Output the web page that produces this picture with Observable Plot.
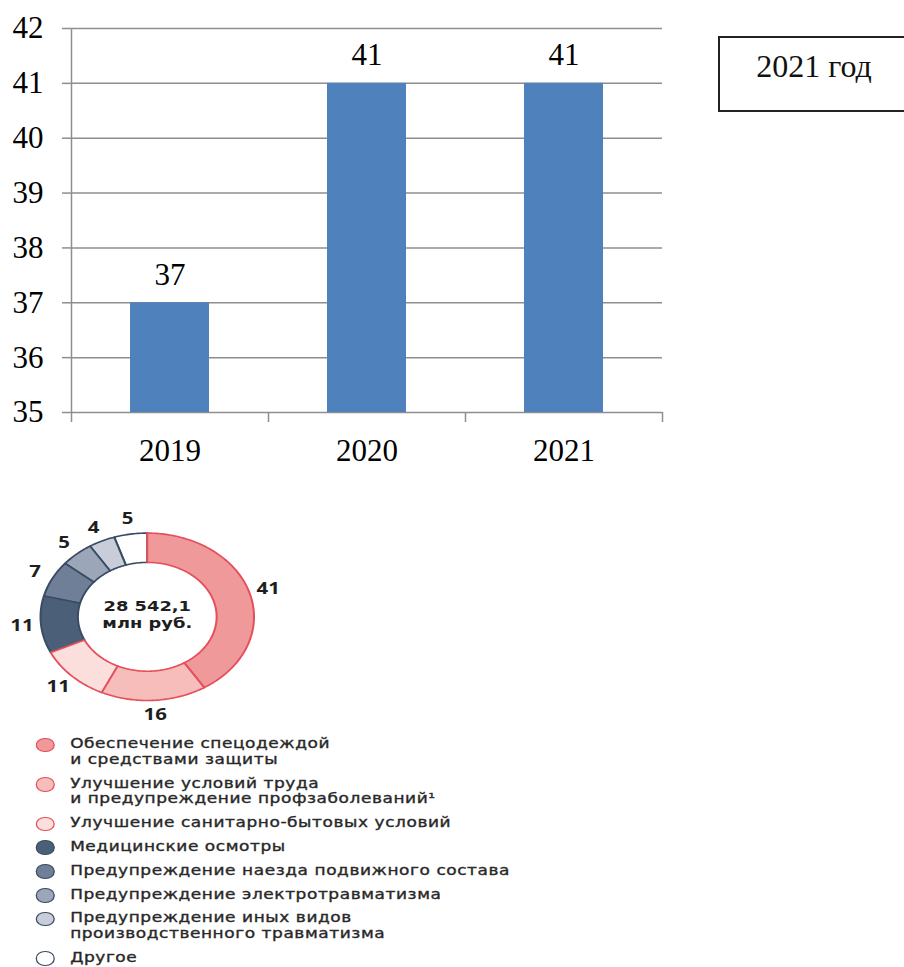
<!DOCTYPE html>
<html>
<head>
<meta charset="utf-8">
<script src="https://cdn.jsdelivr.net/npm/d3@7"></script>
<script src="https://cdn.jsdelivr.net/npm/@observablehq/plot@0.6"></script>
<style>
  html, body { margin: 0; padding: 0; background: #fff; }
  #page { position: relative; width: 904px; height: 967px; overflow: hidden; background: #fff; }
  #bars { position: absolute; left: 0; top: 0; }
  #yearBox { position: absolute; left: 718px; top: 36px; width: 196px; height: 72px; border: 2px solid #222;
             font-family: "Liberation Serif", "Times New Roman", serif; font-size: 32px; color: #111; }
  #yearBox span { position: absolute; left: 0; top: 10px; width: 188px; text-align: center; line-height: normal; white-space: nowrap; }
  #lower { position: absolute; left: 0; top: 500px; width: 420px; height: 467px; transform: scaleX(1.275); transform-origin: 0 0; }
  #donut { position: absolute; left: 0; top: 0; }
  #legend { position: absolute; left: 0; top: 236px; font-family: "DejaVu Sans", sans-serif; font-size: 13.3px;
            letter-spacing: 0.45px; line-height: 15.8px; color: #262626; -webkit-text-stroke: 0.35px #2e2e2e; }
  .row { position: relative; padding-left: 55px; margin-bottom: 8px; white-space: nowrap; }
  .swatch { position: absolute; left: 28px; top: 1.5px; width: 12.5px; height: 12.5px; border-radius: 50%; border: 1.5px solid; -webkit-text-stroke: 0; }
</style>
</head>
<body>
<div id="page">
  <div id="bars"></div>
  <div id="yearBox"><span id="yearBoxText"></span></div>
  <div id="lower">
    <div id="donut"></div>
    <div id="legend"></div>
  </div>
</div>
<script>
// ---------- data ----------
const years = ["2019", "2020", "2021"];
const values = [37, 41, 41];
const yTicks = [35, 36, 37, 38, 39, 40, 41, 42];
const boxLabel = "2021 год";

const shareCategories = [
  "Обеспечение спецодеждой\nи средствами защиты",
  "Улучшение условий труда\nи предупреждение профзаболеваний¹",
  "Улучшение санитарно-бытовых условий",
  "Медицинские осмотры",
  "Предупреждение наезда подвижного состава",
  "Предупреждение электротравматизма",
  "Предупреждение иных видов\nпроизводственного травматизма",
  "Другое"
];
const shareValues = [41, 16, 11, 11, 7, 5, 4, 5];
const totalLabel = ["28 542,1", "млн руб."];

// ---------- styles ----------
const barColor = "#4f81bd";
const gridColor = "#8e8e8e";
const sliceFills = ["#f0999a", "#f6bdba", "#fbdfdd", "#4c5f79", "#6e7f97", "#9ba6b8", "#c9cdd9", "#ffffff"];
const sliceStrokes = ["#e4505c", "#e4505c", "#e4505c", "#3a4c64", "#3a4c64", "#3a4c64", "#3a4c64", "#3a4c64"];

// ---------- bar chart ----------
const W = 700, H = 470, mL = 71, mR = 38, mT = 28, mB = 58;
const step = (W - mL - mR) / years.length;
const innerH = H - mT - mB;
const barsData = years.map((year, i) => ({year, value: values[i]}));
const serif = "Liberation Serif";

const bars = Plot.plot({
  width: W, height: H,
  marginLeft: mL, marginRight: mR, marginTop: mT, marginBottom: mB,
  style: {fontFamily: serif, fontSize: "31px", color: "black", background: "white"},
  x: {domain: years, paddingInner: 0.6, paddingOuter: 0.3},
  y: {domain: [yTicks[0], yTicks[yTicks.length - 1]]},
  marks: [
    Plot.gridY(yTicks, {stroke: gridColor, strokeOpacity: 1, strokeWidth: 1.5}),
    Plot.axisY(yTicks, {tickSize: 9, tickPadding: 19, stroke: gridColor, strokeOpacity: 1, strokeWidth: 1.5,
                        fill: "black", fontSize: 31, fontFamily: serif, label: null, tickFormat: d => String(d)}),
    Plot.ruleX([years[0]], {dx: -step / 2, stroke: gridColor, strokeWidth: 1.5}),
    Plot.ruleX(years, {dx: -step / 2, insetTop: innerH, insetBottom: -10, stroke: gridColor, strokeWidth: 1.5}),
    Plot.ruleX([years[years.length - 1]], {dx: step / 2, insetTop: innerH, insetBottom: -10, stroke: gridColor, strokeWidth: 1.5}),
    Plot.axisX({tickSize: 0, tickPadding: 26, fill: "black", fontSize: 31, fontFamily: serif, label: null}),
    Plot.barY(barsData, {x: "year", y1: yTicks[0], y2: "value", fill: barColor}),
    Plot.text(barsData, {x: "year", y: "value", text: d => String(d.value), dy: -28,
                         fontSize: 31, fontFamily: serif, fill: "black"})
  ]
});
document.getElementById("bars").appendChild(bars);
document.getElementById("yearBoxText").textContent = boxLabel;

// ---------- donut ----------
const cx = 115, cy = 116.3, R = 83.7;
const rOuter = 1, rInner = 0.65, rLabel = 1.18;
const pie = d3.pie().sort(null).value(d => d)(shareValues);

function ring(a0, a1) {
  const n = Math.max(2, Math.ceil((a1 - a0) / (Math.PI / 180)));
  const pts = [];
  for (let k = 0; k <= n; k++) {
    const a = a0 + (a1 - a0) * k / n;
    pts.push({x: rOuter * Math.sin(a), y: rOuter * Math.cos(a)});
  }
  for (let k = n; k >= 0; k--) {
    const a = a0 + (a1 - a0) * k / n;
    pts.push({x: rInner * Math.sin(a), y: rInner * Math.cos(a)});
  }
  pts.push(pts[0]);
  return pts;
}

const sliceMarks = pie.map((p, i) => ({p, i})).reverse().map(({p, i}) =>
  Plot.line(ring(p.startAngle, p.endAngle), {
    x: "x", y: "y", fill: sliceFills[i], stroke: sliceStrokes[i], strokeWidth: 1.6, strokeLinejoin: "round"
  })
);

const labelData = pie.map(p => {
  const a = (p.startAngle + p.endAngle) / 2;
  return {x: rLabel * Math.sin(a), y: rLabel * Math.cos(a), value: p.value};
});

const sans = "Noto Sans";
const donut = Plot.plot({
  width: 300, height: 225,
  margin: 0,
  style: {background: "transparent", fontFamily: sans},
  x: {domain: [-1, 1], range: [cx - R, cx + R], axis: null},
  y: {domain: [-1, 1], range: [cy + R, cy - R], axis: null},
  marks: [
    ...sliceMarks,
    Plot.text(labelData, {x: "x", y: "y", text: d => String(d.value), fontSize: 16, fontWeight: "bold",
                          fill: "#1e1e1e", fontFamily: sans}),
    Plot.text([totalLabel.join("\n")], {x: 0, y: 0, text: d => d, fontSize: 14, fontWeight: "bold",
                                        lineHeight: 1.2, dy: -3, fill: "#1e1e1e", fontFamily: "DejaVu Sans"})
  ]
});
document.getElementById("donut").appendChild(donut);

// ---------- legend ----------
const legend = document.getElementById("legend");
shareCategories.forEach((name, i) => {
  const row = document.createElement("div");
  row.className = "row";
  const sw = document.createElement("span");
  sw.className = "swatch";
  sw.style.background = sliceFills[i];
  sw.style.borderColor = sliceStrokes[i];
  row.appendChild(sw);
  name.split("\n").forEach((line, j) => {
    if (j > 0) row.appendChild(document.createElement("br"));
    row.appendChild(document.createTextNode(line));
  });
  legend.appendChild(row);
});
</script>
</body>
</html>
